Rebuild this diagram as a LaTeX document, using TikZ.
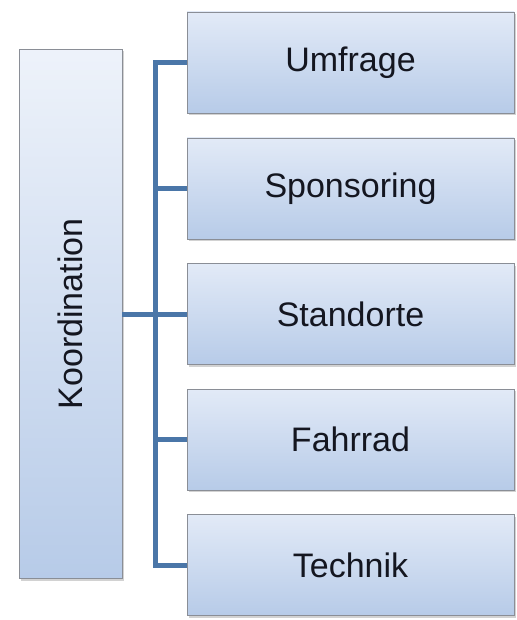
\documentclass[tikz,border=0pt]{standalone}
\usepackage{fontspec}
\setmainfont{Liberation Sans}
\usetikzlibrary{shadows}
\definecolor{linecol}{HTML}{4A76A8}
\definecolor{boxtop}{HTML}{E2EAF7}
\definecolor{boxbot}{HTML}{B7CBE8}
\definecolor{boxedge}{HTML}{8A8E96}
\definecolor{txtcol}{HTML}{141620}
\tikzset{
  box/.style={draw=boxedge, line width=0.9pt, top color=boxtop, bottom color=boxbot,
    minimum width=327pt, minimum height=101pt, inner sep=0pt, text=txtcol,
    font=\fontsize{34}{40}\selectfont,
    drop shadow={shadow xshift=1.5pt, shadow yshift=-2pt, opacity=0.35, fill=gray}},
  mainbox/.style={box, minimum width=103pt, minimum height=529pt, top color=boxtop!60!white},
  conn/.style={draw=linecol, line width=5pt}
}
\begin{document}
\begin{tikzpicture}[x=1pt,y=-1pt]
\useasboundingbox[fill=white] (0,0) rectangle (516,620);
\node[mainbox] (k) at (70.5,314) {\rotatebox{90}{Koordination}};
\node[box] (u) at (350.5,62.5) {Umfrage};
\node[box] (s) at (350.5,188.5) {Sponsoring};
\node[box] (st) at (350.5,314) {Standorte};
\node[box] (f) at (350.5,439.5) {Fahrrad};
\node[box] (t) at (350.5,565) {Technik};
\coordinate (tt) at (155,62.5);
\coordinate (bb) at (155,565);
\draw[conn, line cap=butt, line join=miter] (u.west) -- (tt) -- (bb) -- (t.west);
\draw[conn] (s.west) -- (s.west -| tt);
\draw[conn] (f.west) -- (f.west -| tt);
\draw[conn] (k.east) -- (st.west);
\end{tikzpicture}
\end{document}
